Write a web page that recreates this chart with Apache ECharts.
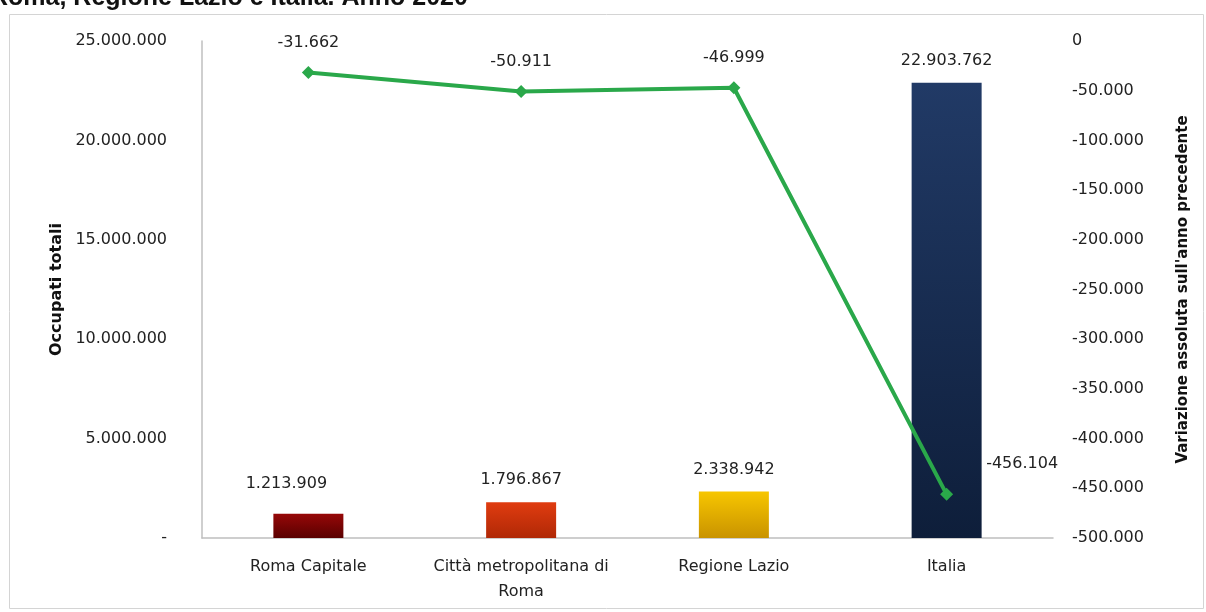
<!DOCTYPE html>
<html>
<head>
<meta charset="utf-8">
<script src="https://cdn.jsdelivr.net/npm/echarts@6/dist/echarts.min.js"></script>
<style>
html,body{margin:0;padding:0;background:#fff;}
#c{width:1206px;height:612px;}
</style>
</head>
<body>
<div id="c"></div>
<script>
const titleText = "Roma, Regione Lazio e Italia. Anno 2020";
const categories = ["Roma Capitale", "Città metropolitana di\nRoma", "Regione Lazio", "Italia"];
const occupati = [1213909, 1796867, 2338942, 22903762];
const variazione = [-31662, -50911, -46999, -456104];
const barColors = [
  ["#960808", "#5a0000"],
  ["#e03c10", "#b02806"],
  ["#f7c600", "#c99300"],
  ["#213a66", "#0e1e3a"]
];
const leftAxisName = "Occupati totali";
const rightAxisName = "Variazione assoluta sull'anno precedente";

function fmt(v) {
  const neg = v < 0;
  let s = String(Math.round(Math.abs(v)));
  s = s.replace(/\B(?=(\d{3})+(?!\d))/g, ".");
  return (neg ? "-" : "") + s;
}

const FONT = "DejaVu Sans";
const FS = 16;
const chart = echarts.init(document.getElementById('c'));

const barData = occupati.map((v, i) => {
  const item = {
    value: v,
    itemStyle: {
      color: new echarts.graphic.LinearGradient(0, 0, 0, 1, [
        {offset: 0, color: barColors[i][0]},
        {offset: 1, color: barColors[i][1]}
      ])
    }
  };
  if (i === 0) item.label = {offset: [-22, -8]};
  return item;
});

const lineData = variazione.map((v, i) => {
  const item = {value: v};
  if (i === variazione.length - 1) item.label = {position: 'right', offset: [18, -31]};
  return item;
});

chart.setOption({
  animation: false,
  textStyle: {fontFamily: FONT},
  graphic: [
    {type: 'rect', shape: {x: 9.5, y: 14.5, width: 1194, height: 594}, style: {fill: 'none', stroke: '#d4d4d4', lineWidth: 1}, z: 0},
    {type: 'text', left: -10, top: -14, style: {text: titleText, font: 'bold 25px "Liberation Sans"', fill: '#111'}}
  ],
  grid: {left: 202, right: 153, top: 41, bottom: 74},
  xAxis: {
    type: 'category',
    data: categories,
    axisLine: {lineStyle: {color: '#bfbfbf', width: 1.5}},
    axisTick: {show: false},
    axisLabel: {interval: 0, color: '#222', fontSize: FS, margin: 16, lineHeight: 25, fontFamily: FONT}
  },
  yAxis: [
    {
      type: 'value', min: 0, max: 25000000, interval: 5000000,
      name: leftAxisName, nameLocation: 'middle', nameGap: 132, nameRotate: 90,
      nameTextStyle: {fontWeight: 'bold', fontSize: 16, color: '#111', fontFamily: FONT},
      axisLine: {show: true, lineStyle: {color: '#bfbfbf', width: 1.5}},
      axisTick: {show: false},
      splitLine: {show: false},
      axisLabel: {color: '#222', fontSize: FS, margin: 35, fontFamily: FONT,
        formatter: v => v === 0 ? '-' : fmt(v)}
    },
    {
      type: 'value', min: -500000, max: 0, interval: 50000,
      name: rightAxisName, nameLocation: 'middle', nameGap: 123, nameRotate: 90,
      nameTextStyle: {fontWeight: 'bold', fontSize: 15, color: '#111', fontFamily: FONT},
      axisLine: {show: false},
      axisTick: {show: false},
      splitLine: {show: false},
      axisLabel: {color: '#222', fontSize: FS, margin: 19, align: 'left', fontFamily: FONT,
        formatter: v => fmt(v)}
    }
  ],
  series: [
    {
      type: 'bar', yAxisIndex: 0, data: barData, barWidth: 70,
      label: {show: true, position: 'top', distance: 14, color: '#222', fontSize: FS, fontFamily: FONT,
        formatter: p => fmt(p.value)}
    },
    {
      type: 'line', yAxisIndex: 1, data: lineData,
      lineStyle: {color: '#2aa84a', width: 4},
      itemStyle: {color: '#2aa84a'},
      symbol: 'diamond', symbolSize: 13,
      label: {show: true, position: 'top', distance: 15, color: '#222', fontSize: FS, fontFamily: FONT,
        formatter: p => fmt(p.value)},
      z: 5
    }
  ]
});
</script>
</body>
</html>
